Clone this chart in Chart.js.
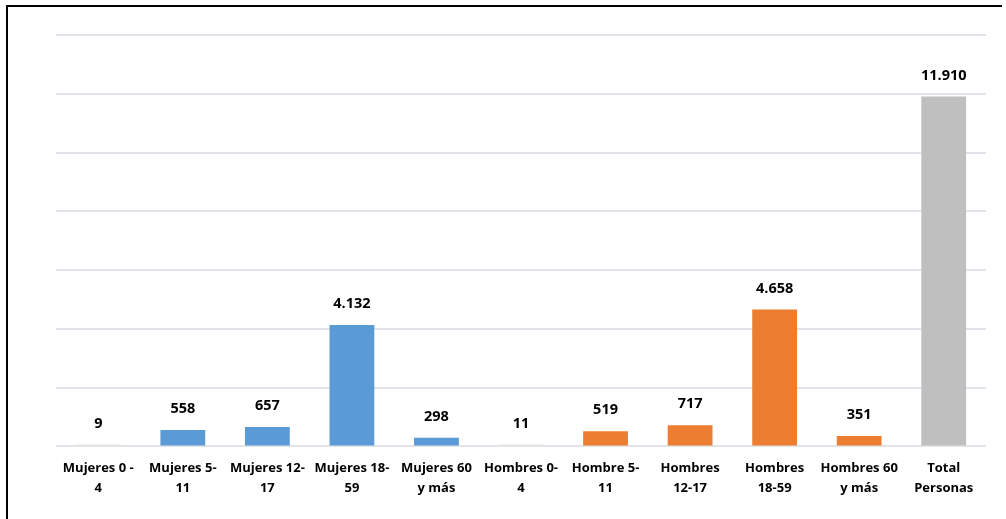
<!DOCTYPE html>
<html>
<head>
<meta charset="utf-8">
<script src="https://cdn.jsdelivr.net/npm/chart.js@4.4.1/dist/chart.umd.min.js"></script>
<style>
  html, body { margin: 0; padding: 0; background: #fff; }
  #wrap { position: relative; width: 1006px; height: 519px; overflow: hidden; }
  #frame { position: absolute; left: 6px; top: 5px; width: 994px; height: 600px;
           border-left: 2px solid #000; border-top: 2px solid #000; pointer-events: none; }
  canvas { position: absolute; left: 0; top: 0; }
</style>
</head>
<body>
<div id="wrap">
  <canvas id="c" width="1006" height="519"></canvas>
  <div id="frame"></div>
</div>
<script>
const categories = [
  ["Mujeres 0 -", "4"], ["Mujeres 5-", "11"], ["Mujeres 12-", "17"], ["Mujeres 18-", "59"],
  ["Mujeres 60", "y más"], ["Hombres 0-", "4"], ["Hombre 5-", "11"], ["Hombres", "12-17"],
  ["Hombres", "18-59"], ["Hombres 60", "y más"], ["Total", "Personas"]
];
const values = [9, 558, 657, 4132, 298, 11, 519, 717, 4658, 351, 11910];
const barColors = ["#e7e6e6", "#5b9bd5", "#5b9bd5", "#5b9bd5", "#5b9bd5",
                   "#e7e6e6", "#ed7d31", "#ed7d31", "#ed7d31", "#ed7d31", "#bfbfbf"];
const yMax = 14000;
const yStep = 2000;

const fmt = v => v.toLocaleString("de-DE");
const FONT = "'Open Sans', Lato, 'DejaVu Sans', sans-serif";

const valueLabels = {
  id: "valueLabels",
  afterDatasetsDraw(chart) {
    const ctx = chart.ctx;
    const meta = chart.getDatasetMeta(0);
    ctx.save();
    ctx.font = "bold 14.5px " + FONT;
    ctx.fillStyle = "#000";
    ctx.textAlign = "center";
    ctx.textBaseline = "middle";
    meta.data.forEach((bar, i) => {
      ctx.fillText(fmt(values[i]), bar.x, bar.y - 21);
    });
    ctx.restore();
  }
};

new Chart(document.getElementById("c"), {
  type: "bar",
  data: {
    labels: categories,
    datasets: [{
      data: values,
      backgroundColor: barColors,
      borderWidth: 0,
      minBarLength: 2,
      categoryPercentage: 1.0,
      barPercentage: 0.53
    }]
  },
  options: {
    responsive: false,
    animation: false,
    layout: { padding: { left: 56, right: 20, top: 35, bottom: 17 } },
    plugins: { legend: { display: false }, tooltip: { enabled: false } },
    scales: {
      x: {
        grid: { display: false },
        border: { display: false },
        ticks: {
          color: "#000",
          font: { family: FONT, size: 13, weight: "bold", lineHeight: 1.6 },
          padding: 3,
          maxRotation: 0,
          autoSkip: false
        }
      },
      y: {
        min: 0, max: yMax,
        ticks: { display: false, stepSize: yStep },
        border: { display: false },
        grid: { color: "#e1e5ea", lineWidth: 2, drawTicks: false }
      }
    }
  },
  plugins: [valueLabels]
});
</script>
</body>
</html>
